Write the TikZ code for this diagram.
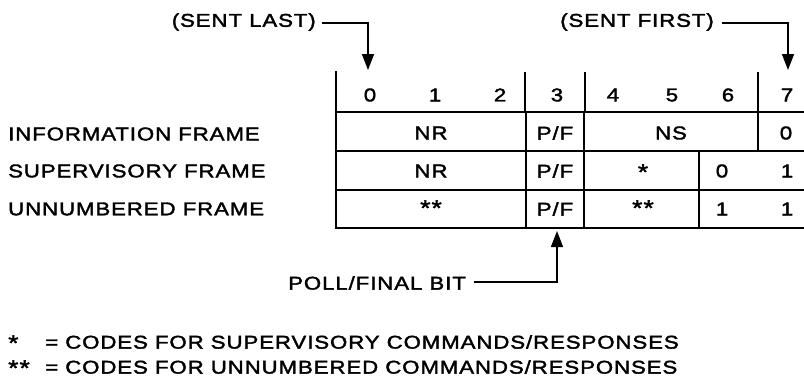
\documentclass[tikz,border=0pt]{standalone}
\usepackage{fontspec}
\setmainfont[FakeStretch=1.2,LetterSpace=5,FakeBold=2]{Liberation Sans}
\usetikzlibrary{arrows.meta}
\begin{document}
\begin{tikzpicture}[x=1pt,y=-1pt,
  txt/.style={inner sep=0pt,font=\fontsize{18.5}{20}\selectfont},
  tbl/.style={line width=2.6pt,line cap=rect},
  sep/.style={line width=2pt},
  arr/.style={line width=1.5pt,-{Triangle[length=16pt,width=12pt]}}]
\useasboundingbox (0,0) rectangle (804,384);
% table frame
\draw[tbl] (336,72) -- (336,228) -- (806,228);
\draw[tbl] (336,112) -- (806,112);
\draw[tbl] (336,151) -- (806,151);
\draw[tbl] (336,190) -- (806,190);
% header separators
\draw[sep] (525,72) -- (525,112);
\draw[sep] (585,72) -- (585,112);
\draw[sep] (758,72) -- (758,112);
% row 1 separators
\draw[sep] (526,112) -- (526,151);
\draw[sep] (584,112) -- (584,151);
\draw[sep] (758,112) -- (758,151);
% rows 2-3 separators
\draw[sep] (526,151) -- (526,228);
\draw[sep] (584,151) -- (584,228);
\draw[sep] (699,151) -- (699,228);
% header digits
\node[txt] (b0) at (370,95) {0};
\node[txt] (b1) at (435,95) {1};
\node[txt] (b2) at (500,95) {2};
\node[txt] (b3) at (557,95) {3};
\node[txt] (b4) at (613,95) {4};
\node[txt] (b5) at (672,95) {5};
\node[txt] (b6) at (728,95) {6};
\node[txt] (b7) at (787,95) {7};
% row 1
\node[txt] (r1nr) at (431,133) {NR};
\node[txt] (r1pf) at (555,133) {P/F};
\node[txt] (r1ns) at (671,133) {NS};
\node[txt] (r1z) at (786,133) {0};
% row 2
\node[txt] (r2nr) at (431,171) {NR};
\node[txt] (r2pf) at (555,171) {P/F};
\node[txt] (r2s) at (643,172) {\fontsize{22}{22}\selectfont *};
\node[txt] (r2a) at (722,171) {0};
\node[txt] (r2b) at (787,171) {1};
% row 3
\node[txt] (r3s) at (431,208) {\fontsize{22}{22}\selectfont **};
\node[txt] (r3pf) at (555,209) {P/F};
\node[txt] (r3t) at (643,208) {\fontsize{22}{22}\selectfont **};
\node[txt] (r3a) at (722,209) {1};
\node[txt] (r3b) at (787,209) {1};
% frame labels
\node[txt,anchor=west] (lInfo) at (8,134) {INFORMATION FRAME};
\node[txt,anchor=west] (lSup) at (8,171) {SUPERVISORY FRAME};
\node[txt,anchor=west] (lUn) at (8,209) {UNNUMBERED FRAME};
% sent last / first
\node[txt,anchor=east] (last) at (316,22) {(SENT LAST)};
\coordinate (lastTip) at (368,70);
\draw[arr] (last.east) ++(6,1) -| (lastTip);
\node[txt,anchor=east] (first) at (714,22) {(SENT FIRST)};
\coordinate (firstTip) at (788,70);
\draw[arr] (first.east) ++(8,1) -| (firstTip);
% poll/final
\node[txt,anchor=west] (poll) at (288,283) {POLL/FINAL BIT};
\coordinate (pollTip) at (557,231);
\draw[arr] (poll.east) ++(8,-1) -| (pollTip);
% footnotes
\node[txt,anchor=west] (fs1) at (8,343) {\fontsize{22}{22}\selectfont *};
\node[txt,anchor=west] (fn1) at (45,342) {= CODES FOR SUPERVISORY COMMANDS/RESPONSES};
\node[txt,anchor=west] (fs2) at (8,368) {\fontsize{22}{22}\selectfont **};
\node[txt,anchor=west] (fn2) at (45,367) {= CODES FOR UNNUMBERED COMMANDS/RESPONSES};
\end{tikzpicture}
\end{document}
